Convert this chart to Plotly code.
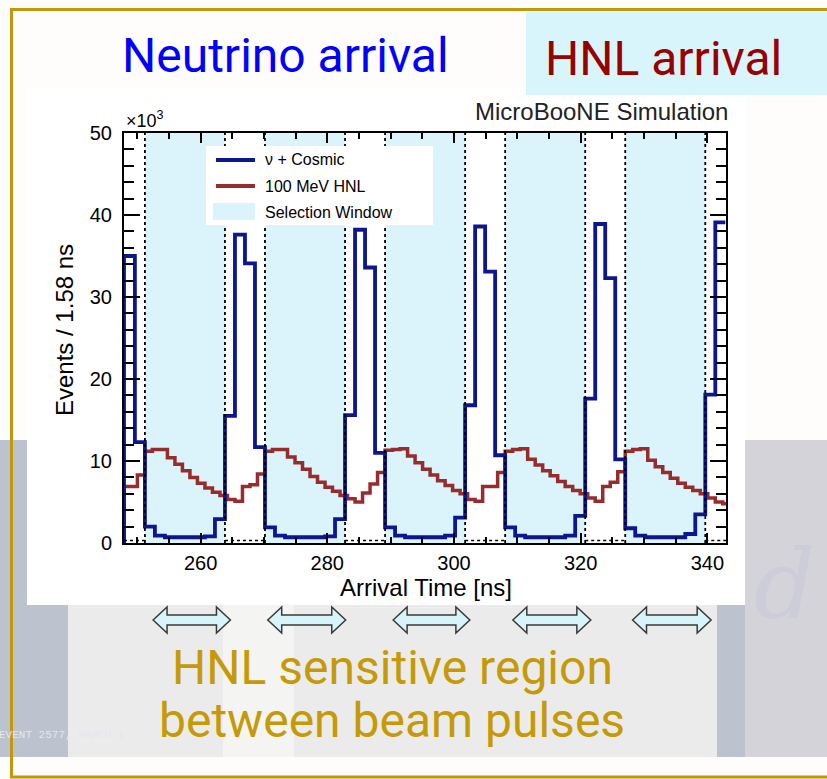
import plotly.graph_objects as go
import numpy as np

# ---------------- data ----------------
X_MIN, X_MAX = 247.9, 342.95
Y_MAX = 50
BIN_W = 1.58                      # ns per bin (nu + cosmic)
BLUE_FIRST_EDGE = 249.62
# nu + Cosmic counts (x10^3) per 1.58 ns bin, first bin starts at the axis edge
blue_counts = [35.0, 12.3, 2.0, 0.9, 0.7, 0.7, 0.7, 0.7, 0.8, 2.9,
               15.5, 37.6, 34.1, 11.7, 1.9, 0.9, 0.7, 0.7, 0.7, 0.7, 0.8, 2.9,
               15.6, 38.2, 33.6, 11.0, 1.9, 0.9, 0.7, 0.7, 0.7, 0.7, 0.9, 3.1,
               16.8, 38.6, 33.1, 10.7, 1.9, 0.9, 0.7, 0.7, 0.7, 0.7, 0.9, 3.3,
               17.6, 38.9, 32.3, 10.2, 1.8, 0.9, 0.7, 0.7, 0.7, 0.7, 1.1, 3.5,
               18.1, 39.1]
HNL_BIN_W = 1.185
HNL_FIRST_EDGE = 248.83
# 100 MeV HNL counts (x10^3)
red_counts = [6.9, 6.9, 8.3,
              11.2, 11.4, 11.4, 10.4, 9.6, 8.8, 8.0, 7.3, 6.7, 6.2, 5.8, 5.3, 5.1, 6.9, 7.1, 8.4,
              11.2, 11.4, 11.4, 10.5, 9.8, 9.0, 8.1, 7.4, 6.8, 6.3, 5.8, 5.4, 5.0, 6.1, 7.2, 8.6,
              11.3, 11.4, 11.5, 10.6, 9.8, 9.0, 8.3, 7.6, 7.0, 6.4, 6.0, 5.3, 5.1, 6.9, 6.9, 8.6,
              11.2, 11.4, 11.5, 10.2, 9.5, 8.8, 8.2, 7.5, 6.9, 6.4, 6.0, 5.5, 5.1, 6.9, 7.4, 8.7,
              11.2, 11.4, 11.5, 10.1, 9.3, 8.6, 7.9, 7.3, 6.8, 6.4, 6.0, 5.5, 5.0, 4.8]
# selection windows [ns]
window_starts = [251.20, 270.16, 289.12, 308.08, 327.04]
window_ends = [263.84, 282.80, 301.76, 320.72, 339.68]
# HNL sensitive-region arrows [ns]
arrow_starts = [252.5, 270.6, 290.4, 309.3, 328.2]
arrow_ends = [264.7, 282.9, 302.5, 321.6, 340.6]
x_ticks = [260, 280, 300, 320, 340]
y_ticks = [0, 10, 20, 30, 40, 50]

# ---------------- helpers ----------------
W, H = 827, 779
ML, MR, MT, MB = 124, 101, 133, 236
PW, PH = W - ML - MR, H - MT - MB


def px(x):
    return (x - ML) / PW


def py(y):
    return (H - MB - y) / PH


def step_xy(edges, counts):
    xs = [edges[0]] + list(edges[:-1]) + [edges[-1]]
    ys = [0] + list(counts) + [counts[-1]]
    return xs, ys


blue_edges = [X_MIN] + [BLUE_FIRST_EDGE + BIN_W * k for k in range(len(blue_counts))]
red_edges = [X_MIN] + [HNL_FIRST_EDGE + HNL_BIN_W * k for k in range(len(red_counts))]

BLUE = "#0b168f"
RED = "#972c2c"
WIN = "#dbf3fb"
GOLD = "#c4960a"
FONT = "Liberation Sans, Arial, sans-serif"

fig = go.Figure()

# selection windows (shaded)
wx, wy = [], []
for s, e in zip(window_starts, window_ends):
    wx += [s, s, e, e, s, None]
    wy += [0, Y_MAX, Y_MAX, 0, 0, None]
fig.add_trace(go.Scatter(x=wx, y=wy, mode="lines", fill="toself", fillcolor=WIN,
                         line=dict(width=0), hoverinfo="skip", showlegend=False))

# HNL histogram
rx, ry = step_xy(red_edges, red_counts)
fig.add_trace(go.Scatter(x=rx, y=ry, mode="lines", line=dict(color=RED, width=3.5, shape="hv"),
                         showlegend=False))
# nu + cosmic histogram
bx, by = step_xy(blue_edges, blue_counts)
fig.add_trace(go.Scatter(x=bx, y=by, mode="lines", line=dict(color=BLUE, width=3.8, shape="hv"),
                         showlegend=False))

# dotted window borders
dx, dy = [], []
for s, e in zip(window_starts, window_ends):
    dx += [s, s, None, e, e, None]
    dy += [0, Y_MAX, None, 0, Y_MAX, None]
fig.add_trace(go.Scatter(x=dx, y=dy, mode="lines", line=dict(color="black", width=1.8, dash="dot"),
                         hoverinfo="skip", showlegend=False))
gaps_l = [X_MIN] + window_ends
gaps_r = window_starts + [X_MAX]
gx, gy = [], []
for a, b in zip(gaps_l, gaps_r):
    gx += [a, b, None]
    gy += [0.3, 0.3, None]
fig.add_trace(go.Scatter(x=gx, y=gy, mode="lines", line=dict(color="black", width=1.5, dash="dot"),
                         hoverinfo="skip", showlegend=False))

shapes = []
# slide background pieces
shapes.append(dict(type="rect", xref="paper", yref="paper", x0=px(-5), x1=px(840), y0=py(440), y1=py(757),
                   fillcolor="#bcc2ce", line_width=0, layer="below"))
shapes.append(dict(type="rect", xref="paper", yref="paper", x0=px(745), x1=px(840), y0=py(440), y1=py(757),
                   fillcolor="#d3d3d9", line_width=0, layer="below"))
shapes.append(dict(type="rect", xref="paper", yref="paper", x0=px(68), x1=px(717), y0=py(440), y1=py(757),
                   fillcolor="#ebebec", line_width=0, layer="below"))
shapes.append(dict(type="rect", xref="paper", yref="paper", x0=px(223), x1=px(294), y0=py(605), y1=py(757),
                   fillcolor="#f4f4f2", line_width=0, layer="below"))
# chart panel
shapes.append(dict(type="rect", xref="paper", yref="paper", x0=px(27), x1=px(745), y0=py(88), y1=py(605),
                   fillcolor="white", line_width=0, layer="below"))
# HNL arrival box
shapes.append(dict(type="rect", xref="paper", yref="paper", x0=px(526), x1=px(840), y0=py(12), y1=py(95),
                   fillcolor="#d8f5fc", line_width=0, layer="below"))
# gold frame
shapes.append(dict(type="rect", xref="paper", yref="paper", x0=px(11.5), x1=px(845), y0=py(9.5), y1=py(777),
                   fillcolor="rgba(0,0,0,0)", line=dict(color=GOLD, width=3), layer="below"))
# legend box and samples
shapes.append(dict(type="rect", xref="paper", yref="paper", x0=px(206), x1=px(433), y0=py(146), y1=py(225),
                   fillcolor="white", line_width=0, layer="above"))
shapes.append(dict(type="line", xref="paper", yref="paper", x0=px(216), x1=px(255), y0=py(160), y1=py(160),
                   line=dict(color=BLUE, width=4), layer="above"))
shapes.append(dict(type="line", xref="paper", yref="paper", x0=px(216), x1=px(255), y0=py(186), y1=py(186),
                   line=dict(color=RED, width=4), layer="above"))
shapes.append(dict(type="rect", xref="paper", yref="paper", x0=px(213), x1=px(255), y0=py(203), y1=py(220),
                   fillcolor=WIN, line_width=0, layer="above"))

# double arrows
yc, hh, sh = py(620), 13 / PH, 5 / PH
head = 2.2
for a, b in zip(arrow_starts, arrow_ends):
    path = (f"M{a},{yc} L{a+head},{yc+hh} L{a+head},{yc+sh} L{b-head},{yc+sh} L{b-head},{yc+hh} "
            f"L{b},{yc} L{b-head},{yc-hh} L{b-head},{yc-sh} L{a+head},{yc-sh} L{a+head},{yc-hh} Z")
    shapes.append(dict(type="path", xref="x", yref="paper", path=path, fillcolor="#d7f4fb",
                       line=dict(color="#3a3a3a", width=1.5), layer="above"))

ann = []


def text(x, y, s, size, color, xanchor="center", yanchor="middle", family=FONT, angle=0, style="normal"):
    ann.append(dict(x=px(x), y=py(y), xref="paper", yref="paper", text=s, showarrow=False,
                    xanchor=xanchor, yanchor=yanchor, textangle=angle,
                    font=dict(family=family, size=size, color=color, style=style)))


# faint slide watermark letter
text(784, 585, "d", 96, "#cdcdd9", family="DejaVu Serif", style="italic")
text(285, 55, "Neutrino arrival", 48, "#0000ff", family="Roboto")
text(663, 58, "HNL arrival", 48, "#990000", family="Roboto")
text(392, 667, "HNL sensitive region", 48, "#c59a06", family="Roboto")
text(392, 720, "between beam pulses", 48, "#c59a06", family="Roboto")
text(730, 112, "MicroBooNE Simulation", 24, "#222222", xanchor="right")
text(124, 120, "×10<sup>3</sup>", 18, "black", xanchor="left")
text(64, 330, "Events / 1.58 ns", 24, "black", angle=-90)
text(426, 587, "Arrival Time [ns]", 24, "black")
text(263, 160, "ν + Cosmic", 16, "black", xanchor="left")
text(263, 186, "100 MeV HNL", 16, "black", xanchor="left")
text(263, 212, "Selection Window", 16, "black", xanchor="left")
text(-3, 735, "EVENT 2577, MARCH 1", 11, "#e3e7ee", xanchor="left", family="Liberation Mono, monospace")

axis_common = dict(showline=True, linecolor="black", linewidth=2, mirror="ticks", ticks="inside",
                   tickcolor="black", tickwidth=1.5, showgrid=False, zeroline=False,
                   tickfont=dict(family=FONT, size=20, color="black"))
fig.update_layout(
    width=W, height=H, margin=dict(l=ML, r=MR, t=MT, b=MB),
    paper_bgcolor="#fefdfb", plot_bgcolor="white",
    showlegend=False, shapes=shapes, annotations=ann,
    xaxis=dict(range=[X_MIN, X_MAX], tickvals=x_ticks, ticklen=10, ticklabelstandoff=1,
               minor=dict(dtick=5, tick0=0, ticklen=6, ticks="inside", tickcolor="black", tickwidth=1.5),
               **axis_common),
    yaxis=dict(range=[0, Y_MAX], tickvals=y_ticks, ticklen=16, ticklabelstandoff=6,
               minor=dict(dtick=2, tick0=0, ticklen=10, ticks="inside", tickcolor="black", tickwidth=1.5),
               **axis_common),
)

fig.write_html("out.html")
